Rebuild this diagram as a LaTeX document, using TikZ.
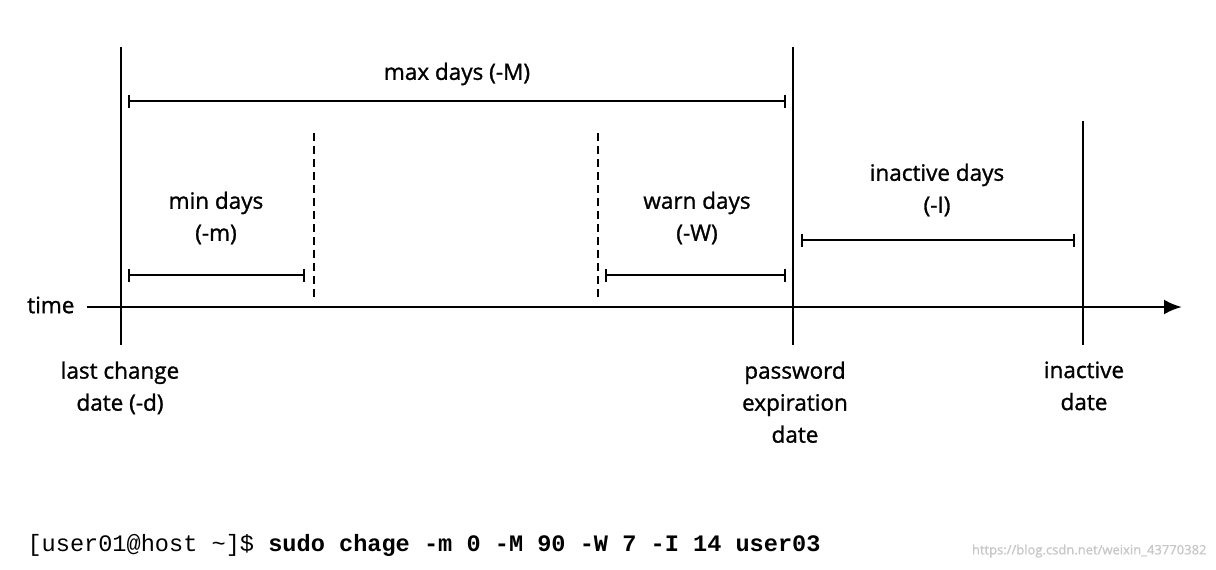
\documentclass[tikz,border=0pt]{standalone}
\usepackage{fontspec}
\setmainfont{Open Sans}[UprightFeatures={FakeBold=1.2}]
\setmonofont{Liberation Mono}
\usetikzlibrary{arrows.meta}
\begin{document}
\begin{tikzpicture}[x=1pt,y=-1pt,
  vl/.style={line width=2.8pt},
  bar/.style={line width=1.5pt,{Bar[width=13pt,line width=2pt]}-{Bar[width=13pt,line width=2pt]}},
  dl/.style={line width=2.8pt,dash pattern=on 8pt off 5pt},
  lbl/.style={font=\fontsize{22.5}{32}\selectfont,align=center}]
\useasboundingbox (0,0) rectangle (1216,570);
\coordinate (t0) at (87,307); \coordinate (t1) at (1182,307);
\draw[line width=2.8pt,-{Latex[length=18pt,width=15pt]}] (t0) -- (t1);
\coordinate (a1) at (121,47); \coordinate (a2) at (121,345);
\coordinate (b1) at (793,47); \coordinate (b2) at (793,345);
\coordinate (c1) at (1083,121); \coordinate (c2) at (1083,345);
\draw[vl] (a1) -- (a2); \draw[vl] (b1) -- (b2); \draw[vl] (c1) -- (c2);
\coordinate (d1) at (314,133); \coordinate (d2) at (314,298);
\coordinate (e1) at (598,133); \coordinate (e2) at (598,298);
\draw[dl] (d1) -- (d2); \draw[dl] (e1) -- (e2);
\coordinate (m1) at (128,101); \coordinate (m2) at (786,101);
\draw[bar] (m1) -- (m2);
\coordinate (n1) at (128,275); \coordinate (n2) at (305,275);
\draw[bar] (n1) -- (n2);
\coordinate (w1) at (605,275); \coordinate (w2) at (786,275);
\draw[bar] (w1) -- (w2);
\coordinate (i1) at (801,240); \coordinate (i2) at (1075,240);
\draw[bar] (i1) -- (i2);
\node[lbl] (tmax) at (457,74) {max days (-M)};
\node[lbl] (tmin) at (216,218) {min days\\(-m)};
\node[lbl] (twarn) at (697,218) {warn days\\(-W)};
\node[lbl] (tina) at (937,190) {inactive days\\(-I)};
\node[lbl,anchor=east] (ttime) at (78,305) {time};
\node[lbl,anchor=north] (tlast) at (120,358) {last change\\date (-d)};
\node[lbl,anchor=north] (tpass) at (795,358) {password\\expiration\\date};
\node[lbl,anchor=north] (tinad) at (1084,358) {inactive\\date};
\node[anchor=west,font=\ttfamily\fontsize{23.6}{28}\selectfont] (cmd) at (24,545) {[user01@host \textasciitilde]\$ \textbf{sudo chage -m 0 -M 90 -W 7 -I 14 user03}};
\node[anchor=east,text=black!22,font=\fontsize{13}{16}\selectfont] (wm) at (1210,551) {https://blog.csdn.net/weixin\_43770382};
\end{tikzpicture}
\end{document}
